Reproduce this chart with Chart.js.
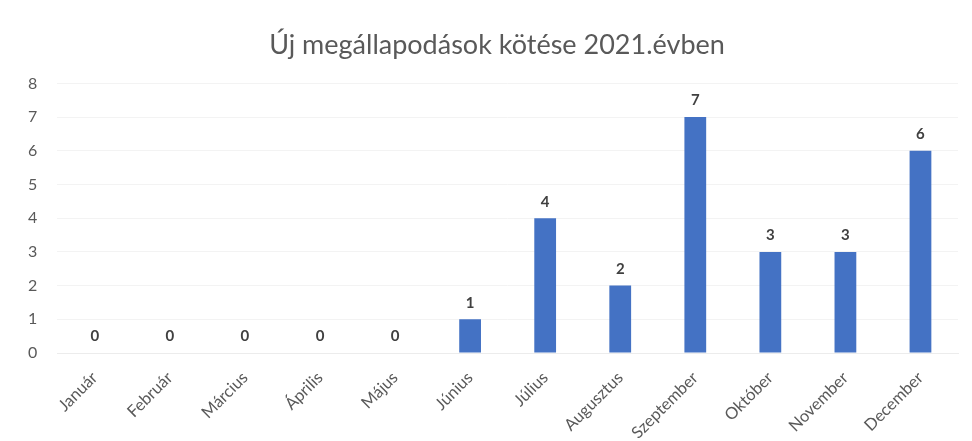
<!DOCTYPE html>
<html>
<head>
<meta charset="utf-8">
<script src="https://cdn.jsdelivr.net/npm/chart.js@4/dist/chart.umd.min.js"></script>
<style>
  html, body { margin: 0; padding: 0; background: #ffffff; }
  #wrap { width: 972px; height: 441px; position: relative; }
</style>
</head>
<body>
<div id="wrap"><canvas id="c" width="972" height="441"></canvas></div>
<script>
// Monthly count of new agreements signed in 2021
const months = ['Január', 'Február', 'Március', 'Április', 'Május', 'Június',
                'Július', 'Augusztus', 'Szeptember', 'Október', 'November', 'December'];
const agreements = [0, 0, 0, 0, 0, 1, 4, 2, 7, 3, 3, 6];
const yTicks = [0, 1, 2, 3, 4, 5, 6, 7, 8];
const chartTitle = 'Új megállapodások kötése 2021.évben';

const FONT = 'Lato, "Open Sans", sans-serif';
const TEXT = '#595959';

// Writes each bar's value just above its top
const valueLabels = {
  id: 'valueLabels',
  afterDatasetsDraw(chart) {
    const ctx = chart.ctx;
    const meta = chart.getDatasetMeta(0);
    ctx.save();
    ctx.font = 'bold 15px ' + FONT;
    ctx.fillStyle = '#404040';
    ctx.textAlign = 'center';
    ctx.textBaseline = 'bottom';
    meta.data.forEach((bar, i) => {
      ctx.fillText(String(agreements[i]), bar.x, bar.y - 9);
    });
    ctx.restore();
  }
};

// Centres the title over the span from the axis numbers to the right edge
const titleSpan = {
  id: 'titleSpan',
  afterLayout(chart) {
    const t = chart.titleBlock;
    if (t) t.left = 36;
  }
};

new Chart(document.getElementById('c'), {
  type: 'bar',
  data: {
    labels: months,
    datasets: [{
      data: agreements,
      backgroundColor: '#4472C4',
      borderWidth: 0,
      barPercentage: 0.58,
      categoryPercentage: 0.5
    }]
  },
  options: {
    responsive: false,
    animation: false,
    layout: { padding: { left: 8, right: 14, top: 14, bottom: 0 } },
    plugins: {
      legend: { display: false },
      tooltip: { enabled: false },
      title: {
        display: true,
        text: chartTitle,
        color: TEXT,
        font: { family: FONT, size: 27, weight: 'normal' },
        padding: { top: 15, bottom: 22 }
      }
    },
    scales: {
      x: {
        grid: { display: false, drawTicks: false },
        border: { display: true, color: '#ececec' },
        ticks: {
          color: TEXT,
          font: { family: FONT, size: 16.5 },
          minRotation: 45,
          maxRotation: 45,
          padding: 15
        },
        // let the first slanted label hang out past the plot's left edge,
        // and keep the label band only as tall as the slanted text needs
        afterFit(scale) {
          scale.paddingLeft = 0;
          scale.height = 88;
        }
      },
      y: {
        min: 0,
        max: 8,
        afterBuildTicks(axis) { axis.ticks = yTicks.map(v => ({ value: v })); },
        grid: { color: '#f3f3f3', drawTicks: false },
        border: { display: false },
        ticks: {
          color: TEXT,
          font: { family: FONT, size: 16 },
          padding: 20
        }
      }
    }
  },
  plugins: [valueLabels, titleSpan]
});
</script>
</body>
</html>
